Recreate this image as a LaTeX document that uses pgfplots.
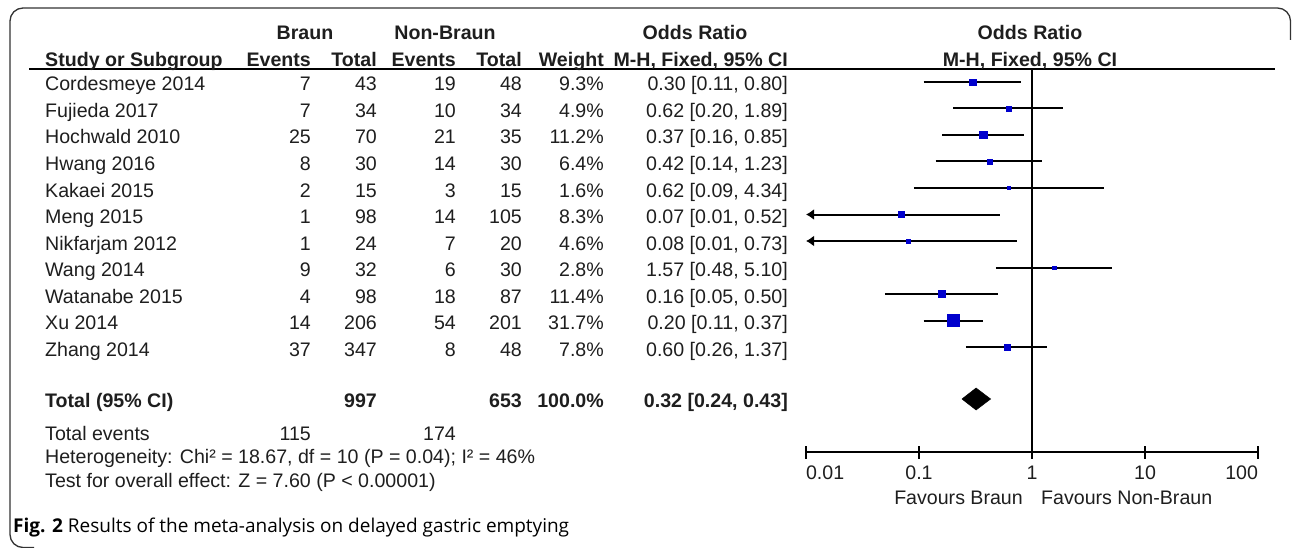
\documentclass[border=0pt]{standalone}
\usepackage{fontspec}
\usepackage{pgfplots}
\usepackage{pgfplotstable}
\pgfplotsset{compat=1.18}
\usetikzlibrary{arrows.meta}
\setmainfont{Liberation Sans}
\newfontfamily\capfont{Open Sans}
\definecolor{txt}{HTML}{1E1E1E}
\definecolor{sqblue}{RGB}{0,0,205}
\newcommand\fs{\fontsize{19.6pt}{22pt}\selectfont}

% forest data: y (pixel row, negative), OR, lower, upper, marker half side (pt)
\pgfplotstableread{
ny      or    lo    hi    ms
-82     0.30  0.11  0.80  3.25
-108.5  0.62  0.20  1.89  2.36
-135    0.37  0.16  0.85  3.56
-161.5  0.42  0.14  1.23  2.69
-188    0.62  0.09  4.34  1.35
-214.5  0.07  0.01  0.52  3.07
-241    0.08  0.01  0.73  2.28
-267.5  1.57  0.48  5.10  1.78
-294    0.16  0.05  0.50  3.60
-320.5  0.20  0.11  0.37  6.00
-347    0.60  0.26  1.37  2.97
}\studies

\begin{document}
\begin{tikzpicture}
\path[use as bounding box] (0pt,0pt) rectangle (1292pt,-548pt);

\begin{axis}[
  at={(806pt,-452pt)}, anchor=south west,
  scale only axis, width=452pt, height=383pt,
  xmode=log, log basis x=10,
  xmin=0.01, xmax=100, ymin=-452, ymax=-69,
  enlargelimits=false, clip=false,
  axis x line*=bottom, axis y line=none,
  xtick={0.01,0.1,1,10,100},
  xticklabels={\makebox[0pt][l]{0.01},0.1,1,10,\makebox[0pt][r]{100}},
  xminorticks=false,
  tick align=center, major tick length=13pt,
  every tick/.style={black, line width=2pt},
  axis line style={black, line width=2pt},
  xticklabel style={font=\fs, text=txt, inner sep=0pt, text height=14pt, text depth=0pt, yshift=-7pt},
]
% line of no effect
\addplot[black, line width=2pt] coordinates {(1,-69) (1,-452)};
% confidence intervals
\addplot[black, line width=2pt] coordinates {(0.11,-82) (0.80,-82)};
\addplot[black, line width=2pt] coordinates {(0.20,-108.5) (1.89,-108.5)};
\addplot[black, line width=2pt] coordinates {(0.16,-135) (0.85,-135)};
\addplot[black, line width=2pt] coordinates {(0.14,-161.5) (1.23,-161.5)};
\addplot[black, line width=2pt] coordinates {(0.09,-188) (4.34,-188)};
\addplot[black, line width=2pt, -{Latex[length=8pt,width=11pt]}] coordinates {(0.52,-214.5) (0.01,-214.5)};
\addplot[black, line width=2pt, -{Latex[length=8pt,width=11pt]}] coordinates {(0.73,-241) (0.01,-241)};
\addplot[black, line width=2pt] coordinates {(0.48,-267.5) (5.10,-267.5)};
\addplot[black, line width=2pt] coordinates {(0.05,-294) (0.50,-294)};
\addplot[black, line width=2pt] coordinates {(0.11,-320.5) (0.37,-320.5)};
\addplot[black, line width=2pt] coordinates {(0.26,-347) (1.37,-347)};
% weighted squares
\addplot[only marks, mark=square*, scatter,
  scatter/use mapped color={draw=sqblue, fill=sqblue},
  visualization depends on={\thisrow{ms} \as \msz},
  scatter/@pre marker code/.append style={/tikz/mark size=\msz pt, /tikz/line width=0.3pt}]
  table[x=or, y=ny] \studies;
% pooled estimate
\addplot[fill=black, draw=black, line width=0.5pt] coordinates {(0.24,-399) (0.32,-388) (0.43,-399) (0.32,-410) (0.24,-399)};
\end{axis}

\begin{scope}[x=1pt,y=-1pt,
  tx/.style={inner sep=0pt, text height=14pt, text depth=0pt, font=\fs, text=txt}]
% frame
\draw[line width=1.3pt, color=black!80, rounded corners=13pt] (34,547.5) -- (10,547.5) -- (10,8) -- (1290.5,8) -- (1290.5,40);
% header underline
\draw[line width=2pt, black] (29,69) -- (1275,69);

% column headers
\node[tx, font=\fs\bfseries] at (305,33) {Braun};
\node[tx, font=\fs\bfseries] at (445,33) {Non-Braun};
\node[tx, font=\fs\bfseries] at (695,33) {Odds Ratio};
\node[tx, font=\fs\bfseries] at (1030,33) {Odds Ratio};
\node[tx, font=\fs\bfseries, anchor=west] at (45,60) {Study or Subgroup};
\node[tx, font=\fs\bfseries, anchor=east] at (311,60) {Events};
\node[tx, font=\fs\bfseries, anchor=east] at (377,60) {Total};
\node[tx, font=\fs\bfseries, anchor=east] at (456,60) {Events};
\node[tx, font=\fs\bfseries, anchor=east] at (522,60) {Total};
\node[tx, font=\fs\bfseries, anchor=east] at (604,60) {Weight};
\node[tx, font=\fs\bfseries, anchor=east] at (788,60) {M-H, Fixed, 95\% CI};
\node[tx, font=\fs\bfseries] at (1030,60) {M-H, Fixed, 95\% CI};

% study rows
\foreach \n/\a/\b/\c/\d/\w/\o [count=\i from 0] in {
  {Cordesmeye 2014}/7/43/19/48/9.3/{0.30 [0.11, 0.80]},
  {Fujieda 2017}/7/34/10/34/4.9/{0.62 [0.20, 1.89]},
  {Hochwald 2010}/25/70/21/35/11.2/{0.37 [0.16, 0.85]},
  {Hwang 2016}/8/30/14/30/6.4/{0.42 [0.14, 1.23]},
  {Kakaei 2015}/2/15/3/15/1.6/{0.62 [0.09, 4.34]},
  {Meng 2015}/1/98/14/105/8.3/{0.07 [0.01, 0.52]},
  {Nikfarjam 2012}/1/24/7/20/4.6/{0.08 [0.01, 0.73]},
  {Wang 2014}/9/32/6/30/2.8/{1.57 [0.48, 5.10]},
  {Watanabe 2015}/4/98/18/87/11.4/{0.16 [0.05, 0.50]},
  {Xu 2014}/14/206/54/201/31.7/{0.20 [0.11, 0.37]},
  {Zhang 2014}/37/347/8/48/7.8/{0.60 [0.26, 1.37]}}{
  \pgfmathsetmacro\yy{84+26.5*\i}
  \node[tx, anchor=west] at (45,\yy) {\n};
  \node[tx, anchor=east] at (311,\yy) {\a};
  \node[tx, anchor=east] at (377,\yy) {\b};
  \node[tx, anchor=east] at (456,\yy) {\c};
  \node[tx, anchor=east] at (522,\yy) {\d};
  \node[tx, anchor=east] at (604,\yy) {\w\%};
  \node[tx, anchor=east] at (788,\yy) {\o};
}

% totals
\node[tx, font=\fs\bfseries, anchor=west] at (45,400) {Total (95\% CI)};
\node[tx, font=\fs\bfseries, anchor=east] at (377,400) {997};
\node[tx, font=\fs\bfseries, anchor=east] at (522,400) {653};
\node[tx, font=\fs\bfseries, anchor=east] at (604,400) {100.0\%};
\node[tx, font=\fs\bfseries, anchor=east] at (788,400) {0.32 [0.24, 0.43]};
\node[tx, anchor=west] at (45,433) {Total events};
\node[tx, anchor=east] at (311,433) {115};
\node[tx, anchor=east] at (456,433) {174};
\node[tx, anchor=west] at (45,456) {Heterogeneity: Chi² = 18.67, df = 10 (P = 0.04); I² = 46\%};
\node[tx, anchor=west] at (45,480) {Test for overall effect: Z = 7.60 (P < 0.00001)};

% favours labels
\node[tx, anchor=east] at (1023,497) {Favours Braun};
\node[tx, anchor=west] at (1041,497) {Favours Non-Braun};

% caption
\node[anchor=west, inner sep=0pt, text=black, text height=13.5pt, text depth=0pt] at (13,526) {\capfont\fontsize{19pt}{22pt}\selectfont\textbf{Fig. 2} Results of the meta-analysis on delayed gastric emptying};
\end{scope}
\end{tikzpicture}
\end{document}
